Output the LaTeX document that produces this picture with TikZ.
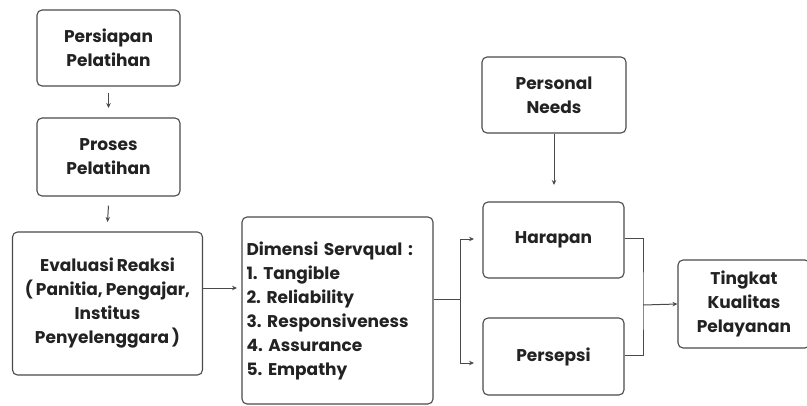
\documentclass[tikz,border=0pt]{standalone}
\usepackage{fontspec}
\setmainfont{Poppins}[WordSpace=0.8]
\usepackage{xcolor}
\usetikzlibrary{arrows.meta}
\definecolor{linegray}{HTML}{4A4A4A}
\definecolor{textgray}{HTML}{222222}
\tikzstyle{block}=[draw=linegray,line width=1.1pt,rounded corners=5pt,align=center,
  text=textgray,font=\fontsize{17}{24}\selectfont\bfseries\frenchspacing,inner sep=0pt]
\tikzstyle{link}=[draw=linegray,line width=1pt,-{Stealth[length=5pt,width=4.5pt]}]

\begin{document}
\begin{tikzpicture}[x=1pt,y=-1pt]
					\useasboundingbox (0,0) rectangle (807,405);
					% left column
					\node [block,minimum width=143pt,minimum height=76pt] (persiapan) at (108.5,48) {Persiapan\\Pelatihan};
					\node [block,minimum width=143pt,minimum height=78pt] (proses) at (108.5,157) {Proses\\Pelatihan};
					\node [block,minimum width=190pt,minimum height=143pt] (evaluasi) at (107.5,303.5)
						{Evaluasi Reaksi\\( Panitia, Pengajar,\\Institus\\Penyelenggara )};
					\draw [link] (persiapan.south) ++(0,6) -- (proses.north |- 0,108);
					\draw [link] (proses.south) ++(0,9) -- (evaluasi.north |- 0,222);
					% servqual
					\node [block,minimum width=191pt,minimum height=187pt,align=left,text width=182pt] (dimensi) at (337.5,310.5)
						{Dimensi Servqual :\\1. Tangible\\2. Reliability\\3. Responsiveness\\4. Assurance\\5. Empathy};
					\draw [link] (evaluasi.east |- 0,288) -- (237,288);
					% right part
					\node [block,minimum width=144pt,minimum height=76pt] (personal) at (554,95) {Personal\\Needs};
					\node [block,minimum width=141pt,minimum height=76pt] (harapan) at (553.5,240) {Harapan};
					\node [block,minimum width=141pt,minimum height=77pt] (persepsi) at (553.5,356.5) {Persepsi};
					\node [block,minimum width=132pt,minimum height=88pt] (tingkat) at (744,304) {Tingkat\\Kualitas\\Pelayanan};
					\coordinate (split) at (460,299);
					\coordinate (join) at (643,305);
					\draw [link] (personal.south) -- (554,185);
					\draw [draw=linegray,line width=1pt] (dimensi.east |- split) -- (split);
					\draw [link] (split) |- (474,239);
					\draw [link] (split) |- (474,363);
					\draw [draw=linegray,line width=1pt] (harapan.east |- 0,238) -| (join) |- (persepsi.east |- 0,355);
					\draw [link] (join) -- (tingkat.west);
\end{tikzpicture}
\end{document}
